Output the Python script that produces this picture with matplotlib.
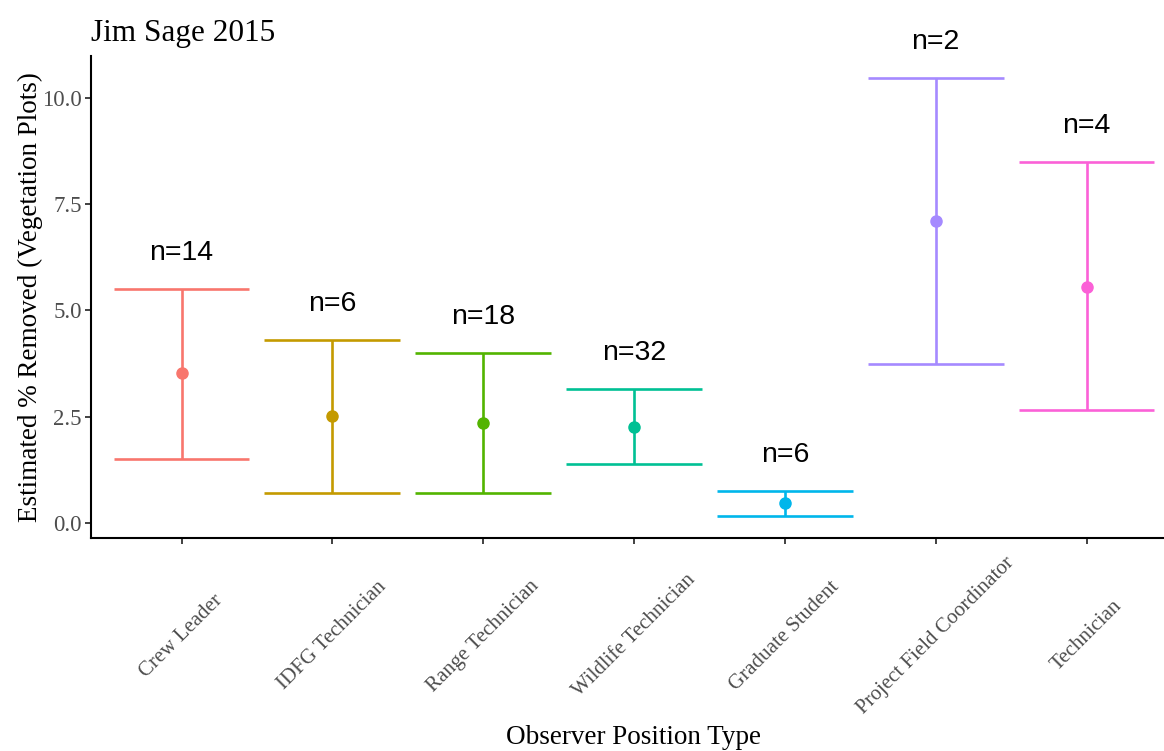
import numpy as np
import matplotlib
matplotlib.use("Agg")
import matplotlib.pyplot as plt

categories = ["Crew Leader", "IDFG Technician", "Range Technician", "Wildlife Technician",
              "Graduate Student", "Project Field Coordinator", "Technician"]
means = [3.53, 2.52, 2.35, 2.26, 0.47, 7.10, 5.55]
lowers = [1.51, 0.71, 0.71, 1.39, 0.16, 3.74, 2.66]
uppers = [5.51, 4.31, 4.00, 3.15, 0.75, 10.47, 8.49]
counts = [14, 6, 18, 32, 6, 2, 4]
colors = ["#F8766D", "#C49A00", "#53B400", "#00C094", "#00B6EB", "#A58AFF", "#FB61D7"]

serif = ["Liberation Serif", "DejaVu Serif"]
sans = ["Liberation Sans", "DejaVu Sans"]

fig = plt.figure(figsize=(11.64, 7.51), dpi=100)
W, H = 1164, 751
left, right, top, bottom = 91, 1177, 56, 538
ax = fig.add_axes([left / W, 1 - bottom / H, (right - left) / W, (bottom - top) / H])

x = np.arange(len(categories))
for xi, m, lo, hi, n, c in zip(x, means, lowers, uppers, counts, colors):
    ax.vlines(xi, lo, hi, color=c, lw=1.9, zorder=2)
    ax.hlines([lo, hi], xi - 0.45, xi + 0.45, color=c, lw=1.9, zorder=2)
    ax.plot([xi], [m], "o", color=c, markersize=8, zorder=3)
    ax.text(xi, hi + 0.85, f"n={n}", ha="center", va="center", fontsize=20.5,
            family=sans, color="black", clip_on=False)

ax.set_xlim(-0.6, len(categories) - 1 + 0.6)
ax.set_ylim(-0.355, 10.99)
ax.set_yticks([0, 2.5, 5, 7.5, 10])
ax.set_yticklabels(["0.0", "2.5", "5.0", "7.5", "10.0"])
ax.set_xticks(x)
ax.set_xticklabels(categories, rotation=45, ha="center", va="center", rotation_mode="anchor")

for s in ["top", "right"]:
    ax.spines[s].set_visible(False)
for s in ["left", "bottom"]:
    ax.spines[s].set_linewidth(1.5)
    ax.spines[s].set_color("black")

ax.tick_params(axis="both", length=4.5, width=1.3, color="#333333", labelcolor="#4D4D4D")
ax.tick_params(axis="y", pad=2, labelsize=16.5)
ax.tick_params(axis="x", pad=66, labelsize=15)
for lab in ax.get_xticklabels() + ax.get_yticklabels():
    lab.set_family(serif)

ax.set_xlabel("Observer Position Type", fontsize=19.5, family=serif, va="center")
ax.xaxis.set_label_coords(0.5, -0.413)
ax.set_ylabel("Estimated % Removed (Vegetation Plots)", fontsize=19.5, family=serif, va="center")
ax.yaxis.set_label_coords(-0.056, 0.5)
ax.set_title("Jim Sage 2015", loc="left", fontsize=22.5, family=serif, pad=11)

fig.savefig("out.png", dpi=100)
